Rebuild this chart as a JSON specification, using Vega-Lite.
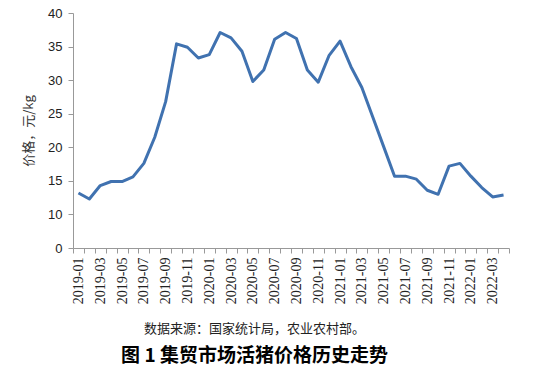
{
  "$schema": "https://vega.github.io/schema/vega-lite/v6.json",
  "width": 436,
  "height": 235,
  "padding": {"left": 22, "top": 7, "right": 5, "bottom": 5},
  "background": "white",
  "config": {"view": {"stroke": null}},
  "title": {
    "text": "数据来源：国家统计局，农业农村部。",
    "subtitle": "图 1 集贸市场活猪价格历史走势",
    "orient": "bottom",
    "anchor": "middle",
    "frame": "bounds",
    "dx": -12,
    "font": "Noto Sans CJK SC",
    "fontSize": 13,
    "fontWeight": "normal",
    "color": "#222222",
    "subtitleFont": "Noto Sans CJK SC",
    "subtitleFontSize": 19,
    "subtitleFontWeight": "bold",
    "subtitleColor": "#000000",
    "subtitlePadding": 11,
    "offset": 19
  },
  "data": {
    "values": [
      {"month": "2019-01", "price": 13.2},
      {"month": "2019-02", "price": 12.3},
      {"month": "2019-03", "price": 14.3},
      {"month": "2019-04", "price": 14.9},
      {"month": "2019-05", "price": 14.9},
      {"month": "2019-06", "price": 15.6},
      {"month": "2019-07", "price": 17.6},
      {"month": "2019-08", "price": 21.5},
      {"month": "2019-09", "price": 26.8},
      {"month": "2019-10", "price": 35.4},
      {"month": "2019-11", "price": 34.9},
      {"month": "2019-12", "price": 33.3},
      {"month": "2020-01", "price": 33.8},
      {"month": "2020-02", "price": 37.1},
      {"month": "2020-03", "price": 36.3},
      {"month": "2020-04", "price": 34.3},
      {"month": "2020-05", "price": 29.8},
      {"month": "2020-06", "price": 31.5},
      {"month": "2020-07", "price": 36.1},
      {"month": "2020-08", "price": 37.1},
      {"month": "2020-09", "price": 36.2},
      {"month": "2020-10", "price": 31.5},
      {"month": "2020-11", "price": 29.7},
      {"month": "2020-12", "price": 33.7},
      {"month": "2021-01", "price": 35.8},
      {"month": "2021-02", "price": 32.0},
      {"month": "2021-03", "price": 28.9},
      {"month": "2021-04", "price": 24.5},
      {"month": "2021-05", "price": 20.1},
      {"month": "2021-06", "price": 15.7},
      {"month": "2021-07", "price": 15.7},
      {"month": "2021-08", "price": 15.25},
      {"month": "2021-09", "price": 13.6},
      {"month": "2021-10", "price": 13.0},
      {"month": "2021-11", "price": 17.2},
      {"month": "2021-12", "price": 17.6},
      {"month": "2022-01", "price": 15.7},
      {"month": "2022-02", "price": 14.0},
      {"month": "2022-03", "price": 12.6},
      {"month": "2022-04", "price": 12.9}
    ]
  },
  "mark": {"type": "line", "color": "#4072b0", "strokeWidth": 3, "strokeJoin": "round"},
  "encoding": {
    "x": {
      "field": "month",
      "type": "ordinal",
      "sort": null,
      "scale": {"type": "band", "paddingInner": 0, "paddingOuter": 0},
      "axis": {
        "title": null,
        "labelAngle": -90,
        "tickBand": "extent",
        "labelExpr": "toNumber(substring(datum.value, 5, 7)) % 2 == 1 ? datum.value : ''",
        "labelOverlap": false,
        "labelFont": "Liberation Serif",
        "labelFontSize": 14,
        "labelColor": "#222222",
        "labelPadding": 4,
        "domainColor": "#999999",
        "tickColor": "#999999",
        "tickSize": 5
      }
    },
    "y": {
      "field": "price",
      "type": "quantitative",
      "scale": {"domain": [5, 40], "nice": false, "zero": false},
      "axis": {
        "values": [5, 10, 15, 20, 25, 30, 35, 40],
        "labelExpr": "datum.value == 5 ? '0' : datum.label",
        "title": "价格，元/kg",
        "titleFont": "Noto Sans CJK SC",
        "titleFontSize": 13,
        "titleFontWeight": "normal",
        "titleColor": "#333333",
        "titlePadding": 12,
        "grid": false,
        "labelFont": "Liberation Sans",
        "labelFontSize": 13,
        "labelColor": "#222222",
        "labelPadding": 6,
        "domainColor": "#999999",
        "tickColor": "#999999",
        "tickSize": 5
      }
    }
  }
}
